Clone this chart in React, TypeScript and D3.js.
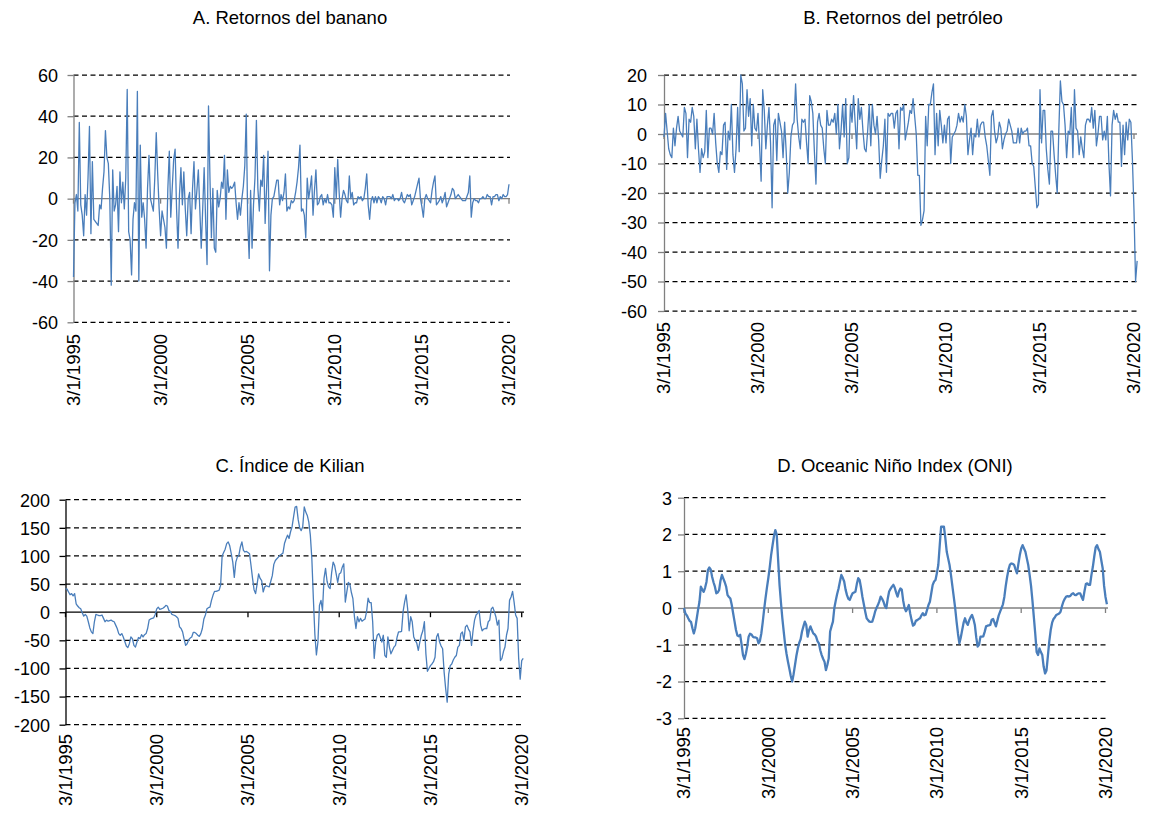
import { useEffect, useRef } from 'react';
import * as d3 from 'd3';

// monthly series, 3/1995 onwards
const xTickLabels = ['3/1/1995', '3/1/2000', '3/1/2005', '3/1/2010', '3/1/2015', '3/1/2020'];
const xTickIndex = [0, 60, 120, 180, 240, 300];

const bananaReturns = [
  -38, -2, 2, -6, 37, -3, -8, -18, 2, -8,
  10, 35, -17, 18, -10, -11, -12, -13, -3, -5,
  5, 13, 33, 20, 17, 0, -42, 14, -6, -3,
  6, -16, 13, -2, 8, -5, 10, 53, -16, -20,
  -37, -10, -2, -6, 52, -40, 26, -9, -2, -10,
  -24, 5, 21, 0, -3, -6, 10, 32, 12, -5,
  -18, -6, -10, -14, -24, 5, 23, -9, 5, 19,
  24, -5, -24, 2, 15, -3, 13, -5, -18, 0,
  3, -17, 5, 18, -5, 4, 14, -5, -24, -5,
  15, -10, -32, 45, 10, -19, 5, -24, -26, 4,
  -4, 0, 8, 5, 21, -10, 14, 3, 6, 5,
  6, 8, -2, -10, -2, -8, 0, 6, 16, 41,
  -11, -29, 4, -24, -3, 10, 38, 5, -6, 9,
  6, 21, -12, 5, 23, -35, -8, 0, 1, 5,
  9, 9, -3, 2, -1, 3, 12, -6, -4, -5,
  -1, -2, -1, 3, 8, 15, 26, -6, -5, -8,
  -19, 10, 0, 5, 11, -8, 4, 14, -3, -2,
  1, 2, -3, 0, -2, 2, -2, -2, -3, -9,
  15, 0, 19, 3, -9, 0, 4, 2, -1, -2,
  11, 0, 3, -3, -2, -2, 1, 0, 1, -1,
  0, 5, 12, -3, -10, -1, 1, -2, 1, -2,
  1, 0, -2, 1, 0, -3, 1, 1, 1, 0,
  2, -1, 0, 0, -1, 0, 3, -1, -2, 0,
  2, 1, 2, -3, -1, 1, 4, 7, 10, 0,
  -4, -9, 0, 2, 0, -1, -2, 4, 8, 11,
  -3, -2, -1, 1, -2, 0, 3, -4, -2, 0,
  2, 5, 4, 0, 1, 2, 1, 0, -1, -1,
  -1, 1, 3, 11, -9, -2, 0, -1, -1, -2,
  0, 0, 1, 0, 0, 2, 1, 1, -3, 1,
  1, 2, 2, -1, 1, 0, 2, 1, 1, 2,
  7,
];

const oilReturns = [
  -1, 7, 1, -5, -7, -8, 2, -4, 2, 6,
  1, 0, -1, 9, 7, -8, 5, 4, 9, 6,
  -5, 5, -5, -13, -5, -8, -6, 8, -8, 2,
  2, 0, 7, -3, -10, -13, -6, -7, 3, 4,
  -12, 1, -2, 10, -7, -13, -5, 9, -6, 20,
  17, 1, 2, 15, 6, 12, -4, 10, 2, 1,
  7, -4, -16, 15, 8, -5, 3, 9, -3, -25,
  3, 5, -9, 7, 4, 1, -8, 4, -6, -20,
  -13, -1, 3, 4, 17, 5, -1, -5, 5, 4,
  5, -3, -10, 13, 11, 7, -6, -17, 4, 7,
  3, 2, -5, -10, 8, 3, 3, 5, 4, 7,
  0, 10, -5, 1, 10, -1, 12, -10, -8, 10,
  4, 13, 4, -5, 12, 5, 9, 1, -5, -6,
  1, 10, -4, 10, 3, 0, 6, -2, -15, -9,
  -4, 5, -13, 7, 6, 7, 7, 2, 7, 8,
  -5, 9, 8, 10, -2, 1, 4, 8, 7, 12,
  6, 0, -14, -14, -31, -29, -26, 6, -4, 10,
  10, 14, 17, -7, 7, -4, 8, 3, -3, 3,
  -3, 5, 6, -10, -1, 0, 1, 3, 7, 4,
  6, 4, 10, 6, -7, -2, 2, -7, 0, -1,
  5, -1, 3, 4, 4, -1, -4, -9, -14, 6,
  8, 1, -3, -1, 4, 2, -5, -2, 0, 1,
  5, 3, 1, -3, -3, -3, 2, -3, 2, 0,
  1, 1, 2, -4, -4, -10, -11, -18, -25, -24,
  15, -3, 8, 8, -5, -12, -17, 1, 1, -7,
  -14, -20, 1, 18, 11, 10, 3, -8, 1, 0,
  9, -8, 15, 2, 1, -7, -1, -5, -8, 3,
  5, 5, 4, 9, 2, 8, -4, 0, 6, 6,
  -2, 1, -2, 6, -10, -21, 3, 8, 5, 7,
  4, 4, -11, 3, -7, 4, -2, 5, 4, -9,
  -26, -50, -43,
];

const kilianIndex = [
  42, 41, 36, 31, 33, 29, 33, 15, 11, 8,
  6, -1, -7, -4, -7, -17, -28, -35, -38, -17,
  -4, -5, -6, -6, -5, -11, -17, -14, -16, -15,
  -14, -16, -17, -23, -29, -38, -41, -38, -44, -52,
  -60, -63, -56, -44, -47, -59, -62, -53, -45, -47,
  -40, -44, -40, -38, -29, -14, -12, -11, -10, -4,
  6, 9, 5, 6, 7, 9, 12, 11, 3, 1,
  -4, -5, -6, -8, -11, -26, -29, -35, -48, -59,
  -56, -49, -46, -44, -36, -36, -38, -41, -43, -38,
  -29, -12, -5, 6, 8, 9, 21, 30, 37, 37,
  38, 39, 48, 100, 106, 112, 122, 125, 118, 104,
  89, 62, 89, 98, 101, 116, 125, 110, 107, 108,
  106, 104, 83, 60, 40, 33, 50, 68, 60, 56,
  36, 45, 47, 46, 45, 55, 65, 85, 92, 95,
  98, 101, 103, 105, 122, 130, 137, 131, 143, 152,
  170, 187, 188, 165, 150, 145, 152, 187, 178, 172,
  160, 137, 95, 24, -40, -76, -53, 12, 21, 3,
  60, 78, 55, 45, 42, 70, 89, 83, 68, 53,
  68, 70, 80, 86, 18, 36, 53, 50, 35, 24,
  -8, -29, -8, -17, -11, -16, -14, -12, 1, 25,
  17, 17, -17, -82, -53, -41, -38, -45, -53, -41,
  -77, -80, -44, -62, -74, -68, -62, -59, -45, -35,
  -35, -34, 1, 18, 31, 6, -33, -8, -17, -44,
  -50, -55, -68, -53, -41, -33, -17, -74, -105, -100,
  -95, -92, -88, -80, -44, -38, -53, -60, -65, -107,
  -136, -160, -110, -95, -92, -85, -80, -77, -62, -59,
  -38, -35, -50, -26, -23, -30, -35, -59, -33, -14,
  -5, -2, 3, -23, -33, -30, -29, -29, -17, -14,
  6, 9, 1, -8, -23, -14, -86, -82, -70, -62,
  -41, -29, 21, 27, 37, 18, -5, -11, -82, -119,
  -86, -82,
];

const oniIndex = [
  0.0, -0.15, -0.2, -0.28, -0.35, -0.38, -0.55, -0.69, -0.55, -0.3,
  -0.05, 0.17, 0.58, 0.5, 0.44, 0.55, 0.71, 1.03, 1.1, 1.05,
  0.85, 0.7, 0.58, 0.4, 0.42, 0.49, 0.75, 0.9, 0.8, 0.7,
  0.58, 0.35, 0.3, 0.26, 0.08, -0.15, -0.37, -0.6, -0.75, -0.77,
  -0.73, -1.0, -1.28, -1.39, -1.25, -1.05, -0.78, -0.7, -0.72, -0.78,
  -0.8, -0.8, -0.82, -0.96, -0.9, -0.7, -0.4, -0.05, 0.26, 0.55,
  0.81, 1.1, 1.44, 1.7, 1.95, 2.12, 1.99, 1.3, 0.63, 0.15,
  -0.28, -0.65, -1.0, -1.25, -1.46, -1.65, -1.85, -2.0, -1.8, -1.55,
  -1.3, -1.1, -0.95, -0.85, -0.64, -0.5, -0.37, -0.46, -0.78, -0.6,
  -0.5, -0.6, -0.69, -0.72, -0.78, -0.9, -0.96, -1.15, -1.28, -1.38,
  -1.46, -1.69, -1.55, -1.37, -0.64, -0.5, -0.37, 0.0, 0.2, 0.38,
  0.53, 0.72, 0.9, 0.82, 0.72, 0.5, 0.35, 0.25, 0.22, 0.32,
  0.4, 0.42, 0.44, 0.65, 0.81, 0.76, 0.55, 0.3, 0.1, -0.1,
  -0.28, -0.33, -0.37, -0.38, -0.37, -0.25, -0.1, 0.0, 0.08, 0.18,
  0.31, 0.25, 0.17, 0.05, 0.0, 0.25, 0.45, 0.52, 0.58, 0.63,
  0.55, 0.42, 0.31, 0.45, 0.53, 0.5, 0.2, 0.0, -0.09, -0.02,
  0.08, -0.15, -0.33, -0.48, -0.45, -0.35, -0.33, -0.3, -0.28, -0.2,
  -0.14, -0.2, -0.18, -0.05, 0.08, 0.17, 0.4, 0.63, 0.72, 0.76,
  0.95, 1.17, 1.7, 2.21, 2.21, 2.21, 1.9, 1.53, 1.35, 1.17,
  0.9, 0.6, 0.3, 0.0, -0.37, -0.7, -0.96, -0.8, -0.6, -0.4,
  -0.28, -0.4, -0.46, -0.33, -0.25, -0.19, -0.3, -0.46, -0.8, -1.05,
  -1.0, -0.78, -0.78, -0.77, -0.65, -0.5, -0.48, -0.47, -0.46, -0.32,
  -0.3, -0.4, -0.5, -0.35, -0.2, -0.1, 0.0, 0.1, 0.3, 0.6,
  0.85, 1.05, 1.18, 1.21, 1.2, 1.17, 1.05, 0.94, 1.2, 1.44,
  1.62, 1.71, 1.62, 1.53, 1.35, 1.17, 0.9, 0.6, 0.2, -0.25,
  -0.7, -1.2, -1.28, -1.1, -1.2, -1.28, -1.6, -1.78, -1.7, -1.3,
  -0.9, -0.6, -0.4, -0.3, -0.25, -0.19, -0.17, -0.15, -0.1, 0.05,
  0.17, 0.25, 0.31, 0.32, 0.31, 0.33, 0.38, 0.4, 0.36, 0.35,
  0.38, 0.4, 0.4, 0.3, 0.22, 0.45, 0.65, 0.67, 0.63, 0.63,
  0.9, 1.12, 1.4, 1.65, 1.71, 1.6, 1.53, 1.3, 1.08, 0.6,
  0.3, 0.1,
];

const FONT = "'Liberation Sans', Arial, sans-serif";
const LINE_COLOR = '#4a7ebb';

const panels = [
  {
    title: 'A. Retornos del banano', values: bananaReturns, yTicks: d3.range(-60, 61, 20),
    x0: 73.5, x1: 509, gridRight: 510, top: 75, bottom: 322.3, labelGap: 15.5,
    xLabelTop: 334, titleX: 290, titleY: 24, lineWidth: 1.3, axisColor: '#808080',
  },
  {
    title: 'B. Retornos del petróleo', values: oilReturns, yTicks: d3.range(-60, 21, 10),
    x0: 664, x1: 1134, gridRight: 1137, top: 75, bottom: 311, labelGap: 17,
    xLabelTop: 322, titleX: 903, titleY: 24, lineWidth: 1.3, axisColor: '#808080',
  },
  {
    title: 'C. Índice de Kilian', values: kilianIndex, yTicks: d3.range(-200, 201, 50),
    x0: 65.5, x1: 521.7, gridRight: 524, top: 499.7, bottom: 724.7, labelGap: 15.5,
    xLabelTop: 734, titleX: 290, titleY: 472, lineWidth: 1.3, axisColor: '#000',
  },
  {
    title: 'D. Oceanic Niño Index (ONI)', values: oniIndex, yTicks: d3.range(-3, 4, 1),
    x0: 684, x1: 1105.5, gridRight: 1108, top: 497.7, bottom: 718.3, labelGap: 12,
    xLabelTop: 727, titleX: 895, titleY: 472, lineWidth: 2.3, axisColor: '#808080',
  },
];

function drawPanel(root, p) {
  const x = d3.scaleLinear().domain([0, 300]).range([p.x0, p.x1]);
  const y = d3
    .scaleLinear()
    .domain([p.yTicks[0], p.yTicks[p.yTicks.length - 1]])
    .range([p.bottom, p.top]);

  const g = root.append('g');

  // dashed gridlines
  g.selectAll('.grid')
    .data(p.yTicks.filter(v => v !== 0))
    .enter()
    .append('line')
    .attr('x1', p.x0)
    .attr('x2', p.gridRight)
    .attr('y1', d => y(d))
    .attr('y2', d => y(d))
    .attr('stroke', '#000')
    .attr('stroke-width', 1.25)
    .attr('stroke-dasharray', '5,3.5');

  // zero line + category ticks
  g.append('line')
    .attr('x1', p.x0)
    .attr('x2', p.gridRight)
    .attr('y1', y(0))
    .attr('y2', y(0))
    .attr('stroke', p.axisColor)
    .attr('stroke-width', 1.3);

  g.selectAll('.xtick')
    .data(xTickIndex)
    .enter()
    .append('line')
    .attr('x1', d => x(d))
    .attr('x2', d => x(d))
    .attr('y1', y(0))
    .attr('y2', y(0) + 5)
    .attr('stroke', p.axisColor)
    .attr('stroke-width', 1.3);

  // y axis
  const yAxis = g
    .append('g')
    .attr('transform', `translate(${p.x0},0)`)
    .call(
      d3.axisLeft(y)
        .tickValues(p.yTicks)
        .tickSize(6)
        .tickSizeOuter(0)
        .tickPadding(p.labelGap - 6)
        .tickFormat(d => String(d))
    );
  yAxis.select('.domain').attr('stroke', p.axisColor).attr('stroke-width', 1.3);
  yAxis.selectAll('.tick line').attr('stroke', p.axisColor).attr('stroke-width', 1.3);
  yAxis
    .selectAll('.tick text')
    .attr('font-family', FONT)
    .attr('font-size', 18)
    .attr('fill', '#000')
    .attr('dy', '0.35em');

  // rotated date labels below the plot
  g.selectAll('.xlab')
    .data(xTickIndex)
    .enter()
    .append('text')
    .attr('transform', d => `translate(${x(d)},${p.xLabelTop}) rotate(-90)`)
    .attr('text-anchor', 'end')
    .attr('dy', '0.35em')
    .attr('font-family', FONT)
    .attr('font-size', 18.5)
    .attr('fill', '#000')
    .text((d, i) => xTickLabels[i]);

  // series line
  const line = d3
    .line()
    .x((d, i) => x(i))
    .y(d => y(d));

  g.append('path')
    .datum(p.values)
    .attr('d', line)
    .attr('fill', 'none')
    .attr('stroke', LINE_COLOR)
    .attr('stroke-width', p.lineWidth)
    .attr('stroke-linejoin', 'round');

  // title
  g.append('text')
    .attr('x', p.titleX)
    .attr('y', p.titleY)
    .attr('text-anchor', 'middle')
    .attr('font-family', FONT)
    .attr('font-size', 18.5)
    .attr('fill', '#000')
    .text(p.title);
}

export default function App() {
  const svgRef = useRef(null);

  useEffect(() => {
    document.body.style.margin = '0';
    if (!svgRef.current) return;
    const svg = d3.select(svgRef.current);
    svg.selectAll('*').remove();
    svg.append('rect').attr('width', 1150).attr('height', 821).attr('fill', '#fff');
    panels.forEach(p => drawPanel(svg, p));
  }, []);

  return <svg ref={svgRef} width={1150} height={821} style={{ display: 'block' }}></svg>;
}
